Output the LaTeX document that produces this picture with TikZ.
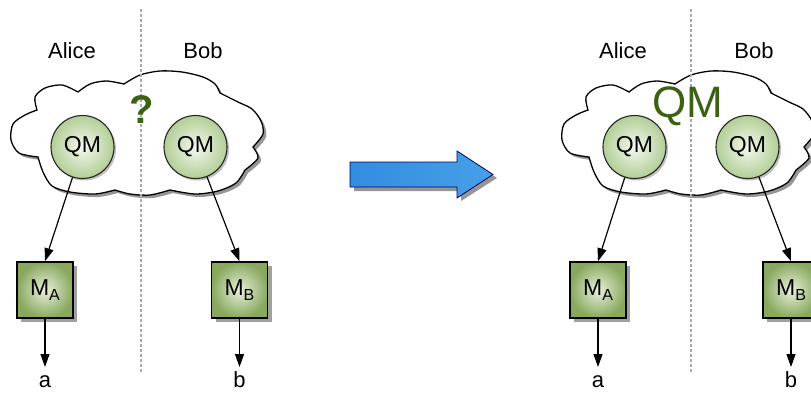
\documentclass[tikz,border=0pt]{standalone}
\usepackage{fontspec}
\setmainfont{Liberation Sans}
\usetikzlibrary{arrows.meta,shadows}
\definecolor{qmgreen}{RGB}{58,98,18}
\definecolor{boxouter}{RGB}{136,168,94}
\definecolor{boxinner}{RGB}{232,240,218}
\definecolor{circouter}{RGB}{178,206,150}
\definecolor{circinner}{RGB}{244,248,238}
\definecolor{shadowgray}{RGB}{150,150,150}
\definecolor{dashgray}{RGB}{170,170,170}
\definecolor{arrowblue}{RGB}{52,140,222}
\definecolor{arrowlight}{RGB}{228,240,250}
\definecolor{arrowright}{RGB}{70,160,232}
\newcommand{\subtxt}[1]{\raisebox{-5pt}{\fontsize{16}{16}\selectfont #1}}
\newcommand{\mycloud}{plot[smooth] coordinates {(37,110) (35,97) (45,88) (62,85) (78,92)}
 -- plot[smooth] coordinates {(78,92) (90,84) (106,81) (124,84)}
 -- plot[smooth] coordinates {(124,84) (140,75) (160,71) (182,72) (203,77) (215,84) (220,93)}
 -- plot[smooth] coordinates {(220,93) (238,102) (252,109) (261,121) (263,134) (253,147)}
 -- plot[smooth] coordinates {(253,147) (258,158) (245,170)}
 -- plot[smooth] coordinates {(245,170) (236,183) (218,191) (195,194) (170,190)}
 -- plot[smooth] coordinates {(170,190) (150,195) (130,194) (115,190)}
 -- plot[smooth] coordinates {(115,190) (95,194) (70,192) (52,186) (43,172) (38,157)}
 -- plot[smooth] coordinates {(38,157) (19,153) (11,140) (13,124) (25,115) (37,110)} -- cycle}
\tikzset{
  lbl/.style={font=\fontsize{22}{22}\selectfont, inner sep=0pt},
  qm/.style={circle, draw=black!85, line width=1.1pt, minimum size=63pt, inner sep=0pt,
    inner color=circinner, outer color=circouter, font=\fontsize{23}{23}\selectfont,
    drop shadow={shadow xshift=2pt, shadow yshift=-2pt, fill=shadowgray, opacity=0.6}},
  mbox/.style={rectangle, draw=black, line width=1.6pt, minimum size=56pt, inner sep=0pt,
    inner color=boxinner, outer color=boxouter, font=\fontsize{23}{23}\selectfont,
    drop shadow={shadow xshift=4pt, shadow yshift=-4pt, fill=shadowgray, opacity=0.9}},
  conn/.style={line width=1.2pt, -{Triangle[length=13pt,width=9pt]}},
  divider/.style={draw=dashgray, line width=1.3pt, dash pattern=on 3pt off 2pt},
  cloudline/.style={draw=black, line width=1.3pt, fill=white},
}
\begin{document}
\begin{tikzpicture}[x=1pt,y=-1pt]
\useasboundingbox (0,0) rectangle (811,392);
\clip (0,0) rectangle (811,392);
% ---------- left panel ----------
\begin{scope}
  \begin{scope}[shift={(3,3)}]
    \fill[shadowgray] \mycloud;
  \end{scope}
  \path[cloudline] \mycloud;
  \coordinate (divTopL) at (141,9);
  \coordinate (divBotL) at (141,372);
  \draw[divider] (divTopL) -- (divBotL);
  \node[lbl] (aliceL) at (72,51) {Alice};
  \node[lbl] (bobL) at (203,51) {Bob};
  \node[font=\fontsize{40}{40}\selectfont\bfseries, text=qmgreen, inner sep=0pt] (qmark) at (142,110) {?};
  \node[qm] (qmAL) at (82.5,147) {QM};
  \node[qm] (qmBL) at (195.5,147) {QM};
  \node[mbox] (MAL) at (45,290) {M\subtxt{A}};
  \node[mbox] (MBL) at (239.5,290) {M\subtxt{B}};
  \coordinate (aendL) at (45,367);
  \coordinate (bendL) at (239.5,367);
  \node[lbl, anchor=base] (aL) at (45,387.5) {a};
  \node[lbl, anchor=base] (bL) at (239.5,387.5) {b};
  \draw[conn] (qmAL) -- (MAL.north);
  \draw[conn] (qmBL) -- (MBL.north);
  \draw[conn] (MAL) -- (aendL);
  \draw[conn] (MBL) -- (bendL);
\end{scope}
% ---------- big arrow ----------
\fill[shadowgray] (354,166) -- (461,166) -- (461,155) -- (497,178) -- (461,201) -- (461,191) -- (354,191) -- cycle;
\shadedraw[left color=arrowblue, middle color=arrowlight, right color=arrowright, draw=black!60!blue, line width=0.8pt]
  (350,162) -- (457,162) -- (457,151) -- (493,174.5) -- (457,198) -- (457,187) -- (350,187) -- cycle;
% ---------- right panel ----------
\begin{scope}[shift={(551,0)}]
  \begin{scope}[shift={(3,3)}]
    \fill[shadowgray] \mycloud;
  \end{scope}
  \path[cloudline] \mycloud;
  \coordinate (divTopR) at (140,9);
  \coordinate (divBotR) at (140,372);
  \draw[divider] (divTopR) -- (divBotR);
  \node[lbl] (aliceR) at (72,51) {Alice};
  \node[lbl] (bobR) at (203,51) {Bob};
  \node[font=\fontsize{44}{44}\selectfont, text=qmgreen, inner sep=0pt] (qmbig) at (137,106) {QM};
  \node[qm] (qmAR) at (83.5,147) {QM};
  \node[qm] (qmBR) at (196.5,147) {QM};
  \node[mbox] (MAR) at (47,290) {M\subtxt{A}};
  \node[mbox] (MBR) at (240,290) {M\subtxt{B}};
  \coordinate (aendR) at (47,367);
  \coordinate (bendR) at (240,367);
  \node[lbl, anchor=base] (aR) at (47,387.5) {a};
  \node[lbl, anchor=base] (bR) at (240,387.5) {b};
  \draw[conn] (qmAR) -- (MAR.north);
  \draw[conn] (qmBR) -- (MBR.north);
  \draw[conn] (MAR) -- (aendR);
  \draw[conn] (MBR) -- (bendR);
\end{scope}
\end{tikzpicture}
\end{document}
